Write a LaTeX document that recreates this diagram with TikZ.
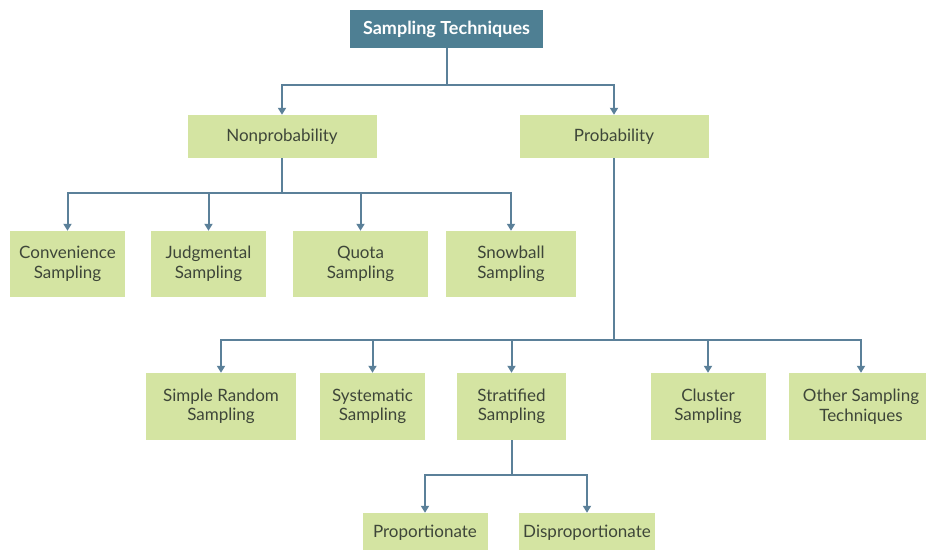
\documentclass[tikz,border=0pt]{standalone}
\usepackage{fontspec}
\setmainfont{Lato}
\usetikzlibrary{arrows.meta}
\definecolor{boxgreen}{HTML}{D4E4A2}
\definecolor{linecol}{HTML}{5B8099}
\definecolor{topfill}{HTML}{4E7F93}
\definecolor{txt}{HTML}{3E4639}
\tikzset{
  box/.style={fill=boxgreen, draw=none, text=txt, align=center, inner sep=0pt,
    font=\fontsize{17}{19.5}\selectfont},
  topbox/.style={fill=topfill, draw=none, text=white, align=center, inner sep=0pt,
    font=\fontsize{18}{20}\selectfont\bfseries, minimum width=193pt, minimum height=38pt},
  conn/.style={draw=linecol, line width=2pt},
  arr/.style={conn, -{Triangle[length=7pt,width=8pt]}}
}
\begin{document}
\begin{tikzpicture}[x=1pt,y=-1pt]
\useasboundingbox (0,0) rectangle (926,549);
\node[topbox] (top) at (446.5,29) {Sampling Techniques};
\node[box, minimum width=189pt, minimum height=43pt] (nonprob) at (282,136.5) {Nonprobability};
\node[box, minimum width=189pt, minimum height=43pt] (prob) at (614,136.5) {Probability};

\node[box, minimum width=115pt, minimum height=66pt] (conv) at (67.5,264) {Convenience\\Sampling};
\node[box, minimum width=115pt, minimum height=66pt] (judg) at (208.5,264) {Judgmental\\Sampling};
\node[box, minimum width=135pt, minimum height=66pt] (quota) at (360.5,264) {Quota\\Sampling};
\node[box, minimum width=130pt, minimum height=66pt] (snow) at (511,264) {Snowball\\Sampling};

\node[box, minimum width=150pt, minimum height=67pt] (simple) at (221,406.5) {Simple Random\\Sampling};
\node[box, minimum width=105pt, minimum height=67pt] (syst) at (372.5,406.5) {Systematic\\Sampling};
\node[box, minimum width=109pt, minimum height=67pt] (strat) at (511.5,406.5) {Stratified\\Sampling};
\node[box, minimum width=115pt, minimum height=67pt] (cluster) at (708,406.5) {Cluster\\Sampling};
\node[box, minimum width=144pt, minimum height=67pt] (other) at (861,406.5) {Other Sampling\\Techniques};

\node[box, minimum width=125pt, minimum height=40pt] (propo) at (425,533) {Proportionate};
\node[box, minimum width=136pt, minimum height=40pt] (dispro) at (587,533) {Disproportionate};

\coordinate (j1) at (446.5,85);
\coordinate (j2) at (282,193);
\coordinate (j3) at (614,340);
\coordinate (j4) at (511.5,475);

\draw[conn] (top.south) -- (j1);
\draw[arr] (j1) -| (nonprob.north);
\draw[arr] (j1) -| (prob.north);

\draw[conn] (nonprob.south) -- (j2);
\draw[arr] (j2) -| (conv.north);
\draw[arr] (j2) -| (judg.north);
\draw[arr] (j2) -| (quota.north);
\draw[arr] (j2) -| (snow.north);

\draw[conn] (prob.south) -- (j3);
\draw[arr] (j3) -| (simple.north);
\draw[arr] (j3) -| (syst.north);
\draw[arr] (j3) -| (strat.north);
\draw[arr] (j3) -| (cluster.north);
\draw[arr] (j3) -| (other.north);

\draw[conn] (strat.south) -- (j4);
\draw[arr] (j4) -| (propo.north);
\draw[arr] (j4) -| (dispro.north);
\end{tikzpicture}
\end{document}
